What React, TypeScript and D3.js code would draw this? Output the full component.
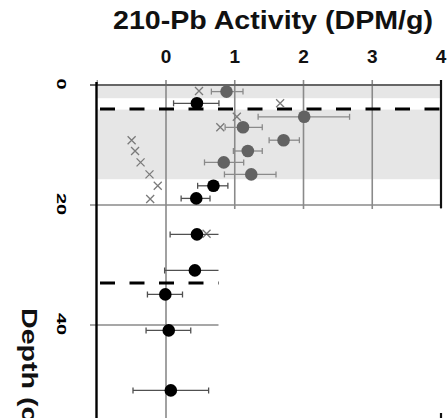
import React from 'react';
import * as d3 from 'd3';

const xTicks = [0, 1, 2, 3, 4];
const depthTicks = [0, 20, 40];
const shadeBands = [[0, 2.2], [4.1, 15.7]];
const dashedDepths = [4, 33];

// gray circles (with error bars)
const grayDepth = [1.1, 5.3, 7.05, 9.2, 11, 12.9, 14.9];
const grayVal = [0.88, 2.01, 1.12, 1.71, 1.19, 0.84, 1.24];
const grayLo = [0.66, 1.34, 0.86, 1.5, 0.98, 0.56, 0.85];
const grayHi = [1.12, 2.67, 1.4, 1.94, 1.4, 1.13, 1.6];

// black circles (with error bars)
const blackDepth = [3.05, 16.8, 18.9, 24.9, 30.9, 34.9, 40.9, 50.9];
const blackVal = [0.45, 0.69, 0.44, 0.45, 0.42, -0.01, 0.04, 0.07];
const blackLo = [0.11, 0.46, 0.22, 0.06, -0.02, -0.27, -0.29, -0.48];
const blackHi = [0.77, 0.9, 0.64, 0.9, 0.9, 0.24, 0.36, 0.62];

// x markers
const crossDepth = [1.0, 3.05, 5.3, 7.05, 9.2, 11, 12.9, 14.9, 16.8, 19, 24.8];
const crossVal = [0.48, 1.66, 1.03, 0.79, -0.5, -0.45, -0.37, -0.24, -0.12, -0.23, 0.59];

const FONT = "'Liberation Sans', Arial, Helvetica, sans-serif";

export default function App() {
  const W = 448, H = 418;
  const x = d3.scaleLinear().domain([-1, 4]).range([97.25, 441]);
  const y = d3.scaleLinear().domain([0, 60]).range([85, 445]);
  const lowerClipX = 218.5;
  const splitDepth = 20;

  const errBar = (d: number, lo: number, hi: number, color: string, key: string) => {
    const yy = y(d);
    return (
      <g key={key} stroke={color} strokeWidth={1.3}>
        <line x1={x(lo)} x2={x(hi)} y1={yy} y2={yy} />
        <line x1={x(lo)} x2={x(lo)} y1={yy - 3} y2={yy + 3} />
        <line x1={x(hi)} x2={x(hi)} y1={yy - 3} y2={yy + 3} />
      </g>
    );
  };
  const cross = (d: number, v: number, key: string) => {
    const cx = x(v), cy = y(d), s = 4;
    return (
      <path key={key} d={`M${cx - s},${cy - s}L${cx + s},${cy + s}M${cx - s},${cy + s}L${cx + s},${cy - s}`}
        stroke="#7a7a7a" strokeWidth={1.3} fill="none" />
    );
  };

  const marks = (upper: boolean) => {
    const inPart = (d: number) => (upper ? d <= splitDepth : d > splitDepth);
    const out: React.ReactNode[] = [];
    crossDepth.forEach((d, i) => { if (inPart(d)) out.push(cross(d, crossVal[i], 'c' + i)); });
    grayDepth.forEach((d, i) => { if (inPart(d)) out.push(errBar(d, grayLo[i], grayHi[i], '#8a8a8a', 'ge' + i)); });
    blackDepth.forEach((d, i) => { if (inPart(d)) out.push(errBar(d, blackLo[i], blackHi[i], '#505050', 'be' + i)); });
    grayDepth.forEach((d, i) => { if (inPart(d)) out.push(<circle key={'g' + i} cx={x(grayVal[i])} cy={y(d)} r={6.3} fill="#626262" />); });
    blackDepth.forEach((d, i) => { if (inPart(d)) out.push(<circle key={'b' + i} cx={x(blackVal[i])} cy={y(d)} r={6.3} fill="#000" />); });
    return out;
  };

  return (
    <svg width={W} height={H} style={{ position: 'absolute', left: 0, top: 0, background: '#fff' }} fontFamily={FONT}>
      <defs>
        <clipPath id="lowerClip">
          <rect x={0} y={y(splitDepth) - 2} width={lowerClipX} height={H} />
        </clipPath>
      </defs>
      <rect x={0} y={0} width={W} height={H} fill="#fff" />

      {/* shading */}
      {shadeBands.map((b, i) => (
        <rect key={'s' + i} x={x(-1)} y={y(b[0])} width={x(4) - x(-1) - 1} height={y(b[1]) - y(b[0])} fill="#e6e6e6" />
      ))}

      {/* vertical gridlines upper */}
      {xTicks.filter(t => t > 0).map(t => (
        <line key={'vg' + t} x1={x(t)} x2={x(t)} y1={80} y2={y(20) + 4} stroke="#8a8a8a" strokeWidth={1.6} />
      ))}
      {/* x=0 line full height */}
      <line x1={x(0)} x2={x(0)} y1={80} y2={H} stroke="#8a8a8a" strokeWidth={1.6} />
      <line x1={x(-1)} x2={x(-1)} y1={80} y2={85} stroke="#8a8a8a" strokeWidth={1.2} />

      {/* horizontal lines */}
      <line x1={90} x2={x(4)} y1={y(0)} y2={y(0)} stroke="#666" strokeWidth={2} />
      <line x1={90} x2={x(4)} y1={y(20)} y2={y(20)} stroke="#8a8a8a" strokeWidth={1.6} />
      <g clipPath="url(#lowerClip)">
        {depthTicks.filter(t => t > 20).map(t => (
          <line key={'hg' + t} x1={90} x2={x(4)} y1={y(t)} y2={y(t)} stroke="#8a8a8a" strokeWidth={1.6} />
        ))}
      </g>

      {/* right border of upper panel */}
      <line x1={x(4)} x2={x(4)} y1={80} y2={y(20) + 3} stroke="#111" strokeWidth={2.2} />
      <line x1={x(4)} x2={x(4)} y1={413} y2={H} stroke="#111" strokeWidth={2.2} />

      {/* dashed lines */}
      <line x1={100} x2={x(4)} y1={y(dashedDepths[0])} y2={y(dashedDepths[0])} stroke="#000" strokeWidth={3} strokeDasharray="15,14.5" />
      <g clipPath="url(#lowerClip)">
        <line x1={100} x2={x(4)} y1={y(dashedDepths[1])} y2={y(dashedDepths[1])} stroke="#000" strokeWidth={3} strokeDasharray="15,14.5" />
      </g>

      {/* data marks */}
      <g>{marks(true)}</g>
      <g clipPath="url(#lowerClip)">{marks(false)}</g>

      {/* left axis */}
      <line x1={96.5} x2={96.5} y1={82} y2={H} stroke="#000" strokeWidth={2.4} />

      {/* top tick labels */}
      {xTicks.map(t => (
        <text key={'xt' + t} x={x(t)} y={63} textAnchor="middle" fontSize={19} fontWeight="bold" fill="#111">{t}</text>
      ))}

      {/* left tick labels (rotated) */}
      {depthTicks.map(t => (
        <text key={'yt' + t} transform={`translate(56.5,${y(t) - 1}) rotate(90) scale(1.6,1)`} textAnchor="middle"
          fontSize={12.5} fontWeight="bold" fill="#000">{t}</text>
      ))}

      {/* title */}
      <text x={113} y={29} fontSize={26} fontWeight="bold" fill="#111" textLength={320} lengthAdjust="spacingAndGlyphs">210-Pb Activity (DPM/g)</text>

      {/* y label */}
      <text transform={`translate(22,308) rotate(90) scale(1.3,1)`} fontSize={22} fontWeight="bold" fill="#111">Depth (cm)</text>
    </svg>
  );
}
